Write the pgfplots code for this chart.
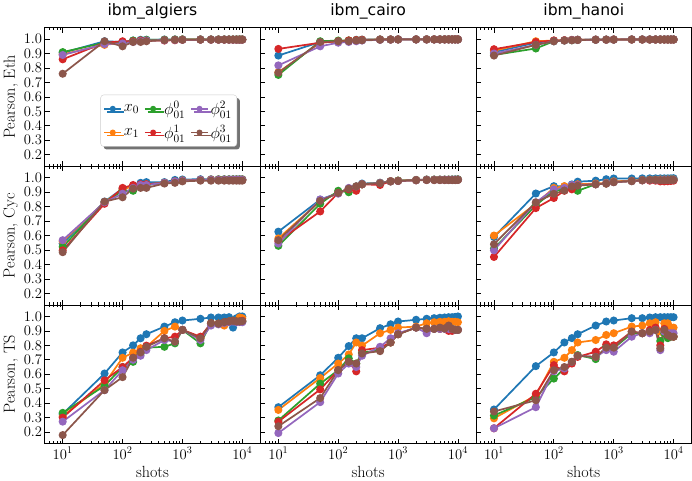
\RequirePackage{fix-cm}
\documentclass[border=0pt]{standalone}
\usepackage{pgfplots}
\pgfplotsset{compat=1.18}
\usepackage{pgfplotstable}
\usepgfplotslibrary{groupplots}
\usetikzlibrary{shadows}
\usepackage{fontspec}
\newfontfamily\titlefont{DejaVu Sans}

\definecolor{c0}{HTML}{1F77B4}
\definecolor{c1}{HTML}{FF7F0E}
\definecolor{c2}{HTML}{2CA02C}
\definecolor{c3}{HTML}{D62728}
\definecolor{c4}{HTML}{9467BD}
\definecolor{c5}{HTML}{8C564B}

% columns: a=x0 b=x1 c=phi0 d=phi1 e=phi2 f=phi3
\pgfplotstableread{
x a b c d e f
10 .905 .895 .910 .860 .890 .760
50 .985 .960 .975 .975 .965 .985
100 .980 .975 .975 .985 .970 .950
150 .990 .985 .990 .985 .980 .980
200 .995 .990 .990 .990 .985 .980
250 .995 .990 .995 .990 .990 .985
500 .997 .995 .995 .990 .992 .993
750 .998 .996 .996 .992 .994 .995
1000 .998 .997 .997 .995 .995 .995
2000 .998 .997 .997 .996 .996 .996
3000 .998 .997 .997 .996 .996 .996
4000 .998 .997 .997 .996 .996 .996
5000 .998 .997 .997 .996 .996 .996
6000 .998 .997 .997 .996 .996 .996
7000 .998 .997 .997 .996 .996 .996
8000 .998 .997 .997 .996 .996 .996
9000 .998 .997 .997 .996 .996 .996
10000 .998 .997 .997 .996 .996 .996
}\tAa
\pgfplotstableread{
x a b c d e f
10 .886 .770 .752 .932 .818 .767
50 .980 .975 .985 .975 .950 .980
100 .985 .985 .990 .985 .975 .985
150 .990 .990 .990 .990 .980 .985
200 .995 .993 .992 .993 .985 .990
250 .996 .995 .994 .995 .990 .992
500 .998 .997 .996 .996 .995 .996
750 .998 .997 .997 .997 .996 .997
1000 .999 .998 .998 .998 .997 .997
2000 .999 .998 .998 .998 .997 .997
3000 .999 .998 .998 .998 .997 .997
4000 .999 .998 .998 .998 .997 .997
5000 .999 .998 .998 .998 .997 .997
6000 .999 .998 .998 .998 .997 .997
7000 .999 .998 .998 .998 .997 .997
8000 .999 .998 .998 .998 .997 .997
9000 .999 .998 .998 .998 .997 .997
10000 .999 .998 .998 .998 .997 .997
}\tBa
\pgfplotstableread{
x a b c d e f
10 .910 .920 .890 .930 .900 .886
50 .975 .985 .935 .980 .960 .960
100 .990 .990 .985 .990 .985 .985
150 .992 .992 .990 .992 .990 .990
200 .994 .994 .992 .994 .993 .992
250 .996 .995 .994 .995 .994 .994
500 .997 .996 .995 .996 .995 .995
750 .997 .996 .996 .996 .996 .996
1000 .998 .997 .996 .997 .996 .996
2000 .998 .997 .997 .997 .997 .997
3000 .998 .997 .997 .997 .997 .997
4000 .998 .997 .997 .997 .997 .997
5000 .998 .997 .997 .997 .997 .997
6000 .998 .997 .997 .997 .997 .997
7000 .998 .997 .997 .997 .997 .997
8000 .998 .997 .997 .997 .997 .997
9000 .998 .997 .997 .997 .997 .997
10000 .998 .997 .997 .997 .997 .997
}\tCa
\pgfplotstableread{
x a b c d e f
10 .545 .560 .522 .498 .568 .485
50 .835 .830 .830 .820 .830 .835
100 .925 .920 .910 .930 .890 .865
150 .945 .940 .910 .950 .930 .925
200 .965 .950 .950 .955 .950 .930
250 .970 .955 .950 .955 .950 .930
500 .970 .965 .965 .965 .965 .960
750 .985 .975 .975 .975 .975 .965
1000 .988 .982 .980 .980 .980 .975
2000 .990 .985 .985 .985 .985 .980
3000 .990 .988 .985 .985 .985 .980
4000 .990 .988 .987 .985 .985 .980
5000 .990 .988 .987 .985 .985 .980
6000 .990 .988 .987 .985 .985 .980
7000 .990 .988 .987 .985 .985 .980
8000 .990 .988 .987 .985 .985 .980
9000 .990 .988 .987 .985 .985 .980
10000 .990 .988 .987 .985 .985 .980
}\tAb
\pgfplotstableread{
x a b c d e f
10 .627 .580 .529 .560 .545 .568
50 .849 .840 .820 .767 .850 .840
100 .895 .895 .910 .895 .890 .895
150 .925 .925 .900 .920 .930 .925
200 .940 .940 .940 .910 .940 .940
250 .960 .955 .955 .955 .955 .955
500 .965 .965 .965 .950 .965 .962
750 .977 .977 .975 .975 .975 .975
1000 .980 .980 .980 .978 .978 .978
2000 .985 .985 .984 .983 .983 .983
3000 .988 .987 .986 .985 .985 .984
4000 .988 .987 .986 .985 .985 .984
5000 .988 .987 .986 .985 .985 .984
6000 .988 .987 .986 .985 .985 .984
7000 .988 .987 .986 .985 .985 .984
8000 .989 .987 .986 .985 .985 .984
9000 .989 .987 .986 .985 .985 .984
10000 .990 .988 .987 .986 .986 .985
}\tBb
\pgfplotstableread{
x a b c d e f
10 .590 .600 .510 .452 .498 .540
50 .891 .820 .810 .790 .830 .830
100 .942 .930 .910 .860 .920 .889
150 .940 .942 .920 .910 .930 .912
200 .954 .945 .930 .920 .950 .940
250 .973 .955 .910 .950 .950 .945
500 .980 .960 .955 .955 .955 .955
750 .990 .965 .960 .960 .962 .960
1000 .995 .975 .970 .970 .970 .970
2000 .995 .980 .977 .977 .977 .977
3000 .996 .985 .983 .982 .983 .983
4000 .996 .987 .985 .980 .985 .985
5000 .996 .987 .985 .980 .985 .985
6000 .996 .988 .985 .975 .985 .983
7000 .996 .988 .985 .975 .985 .983
8000 .996 .988 .986 .976 .986 .984
9000 .996 .988 .986 .978 .986 .985
10000 .997 .989 .987 .980 .987 .985
}\tCb
\pgfplotstableread{
x a b c d e f
10 .325 .310 .333 .300 .272 .179
50 .605 .535 .520 .558 .490 .490
100 .751 .714 .650 .650 .628 .580
150 .800 .750 .686 .714 .700 .714
200 .849 .780 .744 .756 .728 .751
250 .877 .790 .784 .798 .767 .790
500 .930 .900 .790 .849 .837 .849
750 .960 .930 .814 .860 .826 .826
1000 .972 .907 .907 .907 .907 .907
2000 .984 .850 .814 .860 .837 .849
3000 .993 .953 .953 .953 .937 .953
4000 .993 .950 .950 .950 .945 .950
5000 .993 .937 .960 .960 .955 .960
6000 .995 .965 .965 .965 .960 .965
7000 .923 .970 .970 .970 .965 .970
8000 .988 .965 .965 .965 .960 .965
9000 1.0 .993 .965 .965 .962 .965
10000 1.0 .988 .965 .970 .960 .968
}\tAc
\pgfplotstableread{
x a b c d e f
10 .372 .353 .280 .272 .193 .240
50 .593 .574 .535 .495 .407 .435
100 .714 .674 .628 .628 .605 .628
150 .795 .737 .710 .686 .674 .686
200 .849 .820 .674 .620 .650 .674
250 .849 .798 .750 .767 .728 .744
500 .919 .884 .767 .784 .790 .760
750 .946 .907 .820 .820 .849 .820
1000 .965 .923 .877 .877 .884 .877
2000 .977 .930 .923 .923 .923 .923
3000 .984 .953 .914 .914 .884 .914
4000 .988 .960 .914 .914 .914 .914
5000 .991 .963 .914 .914 .914 .923
6000 .993 .963 .916 .916 .914 .916
7000 .995 .967 .914 .900 .914 .937
8000 .995 .963 .914 .900 .914 .914
9000 .997 .963 .907 .907 .907 .907
10000 1.0 .960 .907 .907 .907 .907
}\tBc
\pgfplotstableread{
x a b c d e f
10 .356 .295 .314 .226 .226 .342
50 .656 .453 .442 .465 .372 .420
100 .751 .686 .570 .663 .621 .628
150 .820 .714 .640 .620 .640 .650
200 .850 .767 .686 .674 .686 .686
250 .877 .820 .733 .720 .728 .728
500 .937 .837 .705 .756 .720 .720
750 .965 .872 .790 .807 .767 .784
1000 .972 .884 .780 .800 .756 .784
2000 .988 .930 .884 .895 .860 .895
3000 .988 .937 .884 .884 .884 .884
4000 .993 .953 .895 .907 .884 .895
5000 .995 .960 .907 .923 .907 .907
6000 .995 .895 .830 .800 .767 .780
7000 .995 .953 .884 .914 .895 .907
8000 .995 .953 .850 .872 .884 .872
9000 .995 .923 .860 .872 .884 .860
10000 .995 .923 .860 .860 .884 .860
}\tCc

\pgfplotsset{
  sbase/.style={line width=1.7bp, mark=*, mark size=3.1bp, mark options={solid}},
  s0/.style={sbase, color=c0},
  s1/.style={sbase, color=c1},
  s2/.style={sbase, color=c2},
  s3/.style={sbase, color=c3},
  s4/.style={sbase, color=c4},
  s5/.style={sbase, color=c5},
}
\newcommand{\sixplots}[2]{%
  \addplot[s0,#2] table[x=x,y=a]{#1};
  \addplot[s1,#2] table[x=x,y=b]{#1};
  \addplot[s2,#2] table[x=x,y=c]{#1};
  \addplot[s3,#2] table[x=x,y=d]{#1};
  \addplot[s4,#2] table[x=x,y=e]{#1};
  \addplot[s5,#2] table[x=x,y=f]{#1};
}

\begin{document}
\begin{tikzpicture}
\begin{groupplot}[
  group style={group size=3 by 3, horizontal sep=0pt, vertical sep=0pt,
    xticklabels at=edge bottom, yticklabels at=edge left},
  scale only axis, width=213bp, height=137bp,
  xmode=log, xmin=5, xmax=20000, ymin=0.12, ymax=1.08,
  ytick={0.2,0.3,0.4,0.5,0.6,0.7,0.8,0.9,1.0},
  yticklabel style={xshift=1bp, /pgf/number format/.cd, fixed, fixed zerofill, precision=1},
  tick align=inside, xtick pos=both, ytick pos=left,
  major tick length=5bp, minor tick length=2.5bp,
  every tick/.style={black, line width=0.7bp},
  axis line style={line width=0.8bp},
  tick label style={font=\fontsize{14.5}{17}\selectfont},
  label style={font=\fontsize{16}{19}\selectfont},
  ylabel style={yshift=-1bp},
  title style={font=\titlefont\fontsize{15.5}{18}\selectfont, yshift=-1bp},
  clip=false,
]
\nextgroupplot[title={ibm\_algiers}, ylabel={Pearson, Eth},
  legend columns=3, legend cell align=left,
  legend style={at={(0.892,0.141)}, anchor=south east,
    font=\fontsize{16}{19}\selectfont, draw=black!20, fill=white,
    rounded corners=3bp, inner xsep=3bp, inner ysep=4.5bp,
    drop shadow={shadow xshift=3bp, shadow yshift=-3bp, fill=black!55, opacity=1},
    row sep=5bp,
    /tikz/every odd column/.append style={column sep=0bp},
    /tikz/every even column/.append style={column sep=3bp}},
  legend image code/.code={\draw[mark repeat=2,mark phase=2, line width=1.5bp, mark size=2.2bp] plot coordinates {(0cm,0cm) (0.29cm,0cm) (0.58cm,0cm)};}]
\sixplots{\tAa}{forget plot}
\addlegendimage{s0}\addlegendentry{$x_0$}
\addlegendimage{s2}\addlegendentry{$\phi^0_{01}$}
\addlegendimage{s4}\addlegendentry{$\phi^2_{01}$}
\addlegendimage{s1}\addlegendentry{$x_1$}
\addlegendimage{s3}\addlegendentry{$\phi^1_{01}$}
\addlegendimage{s5}\addlegendentry{$\phi^3_{01}$}
\nextgroupplot[title={ibm\_cairo}]
\sixplots{\tBa}{}
\nextgroupplot[title={ibm\_hanoi}]
\sixplots{\tCa}{}
\nextgroupplot[ylabel={Pearson, Cyc}]
\sixplots{\tAb}{}
\nextgroupplot
\sixplots{\tBb}{}
\nextgroupplot
\sixplots{\tCb}{}
\nextgroupplot[ylabel={Pearson, TS}, xlabel={shots}]
\sixplots{\tAc}{}
\nextgroupplot[xlabel={shots}]
\sixplots{\tBc}{}
\nextgroupplot[xlabel={shots}]
\sixplots{\tCc}{}
\end{groupplot}
\end{tikzpicture}
\end{document}
